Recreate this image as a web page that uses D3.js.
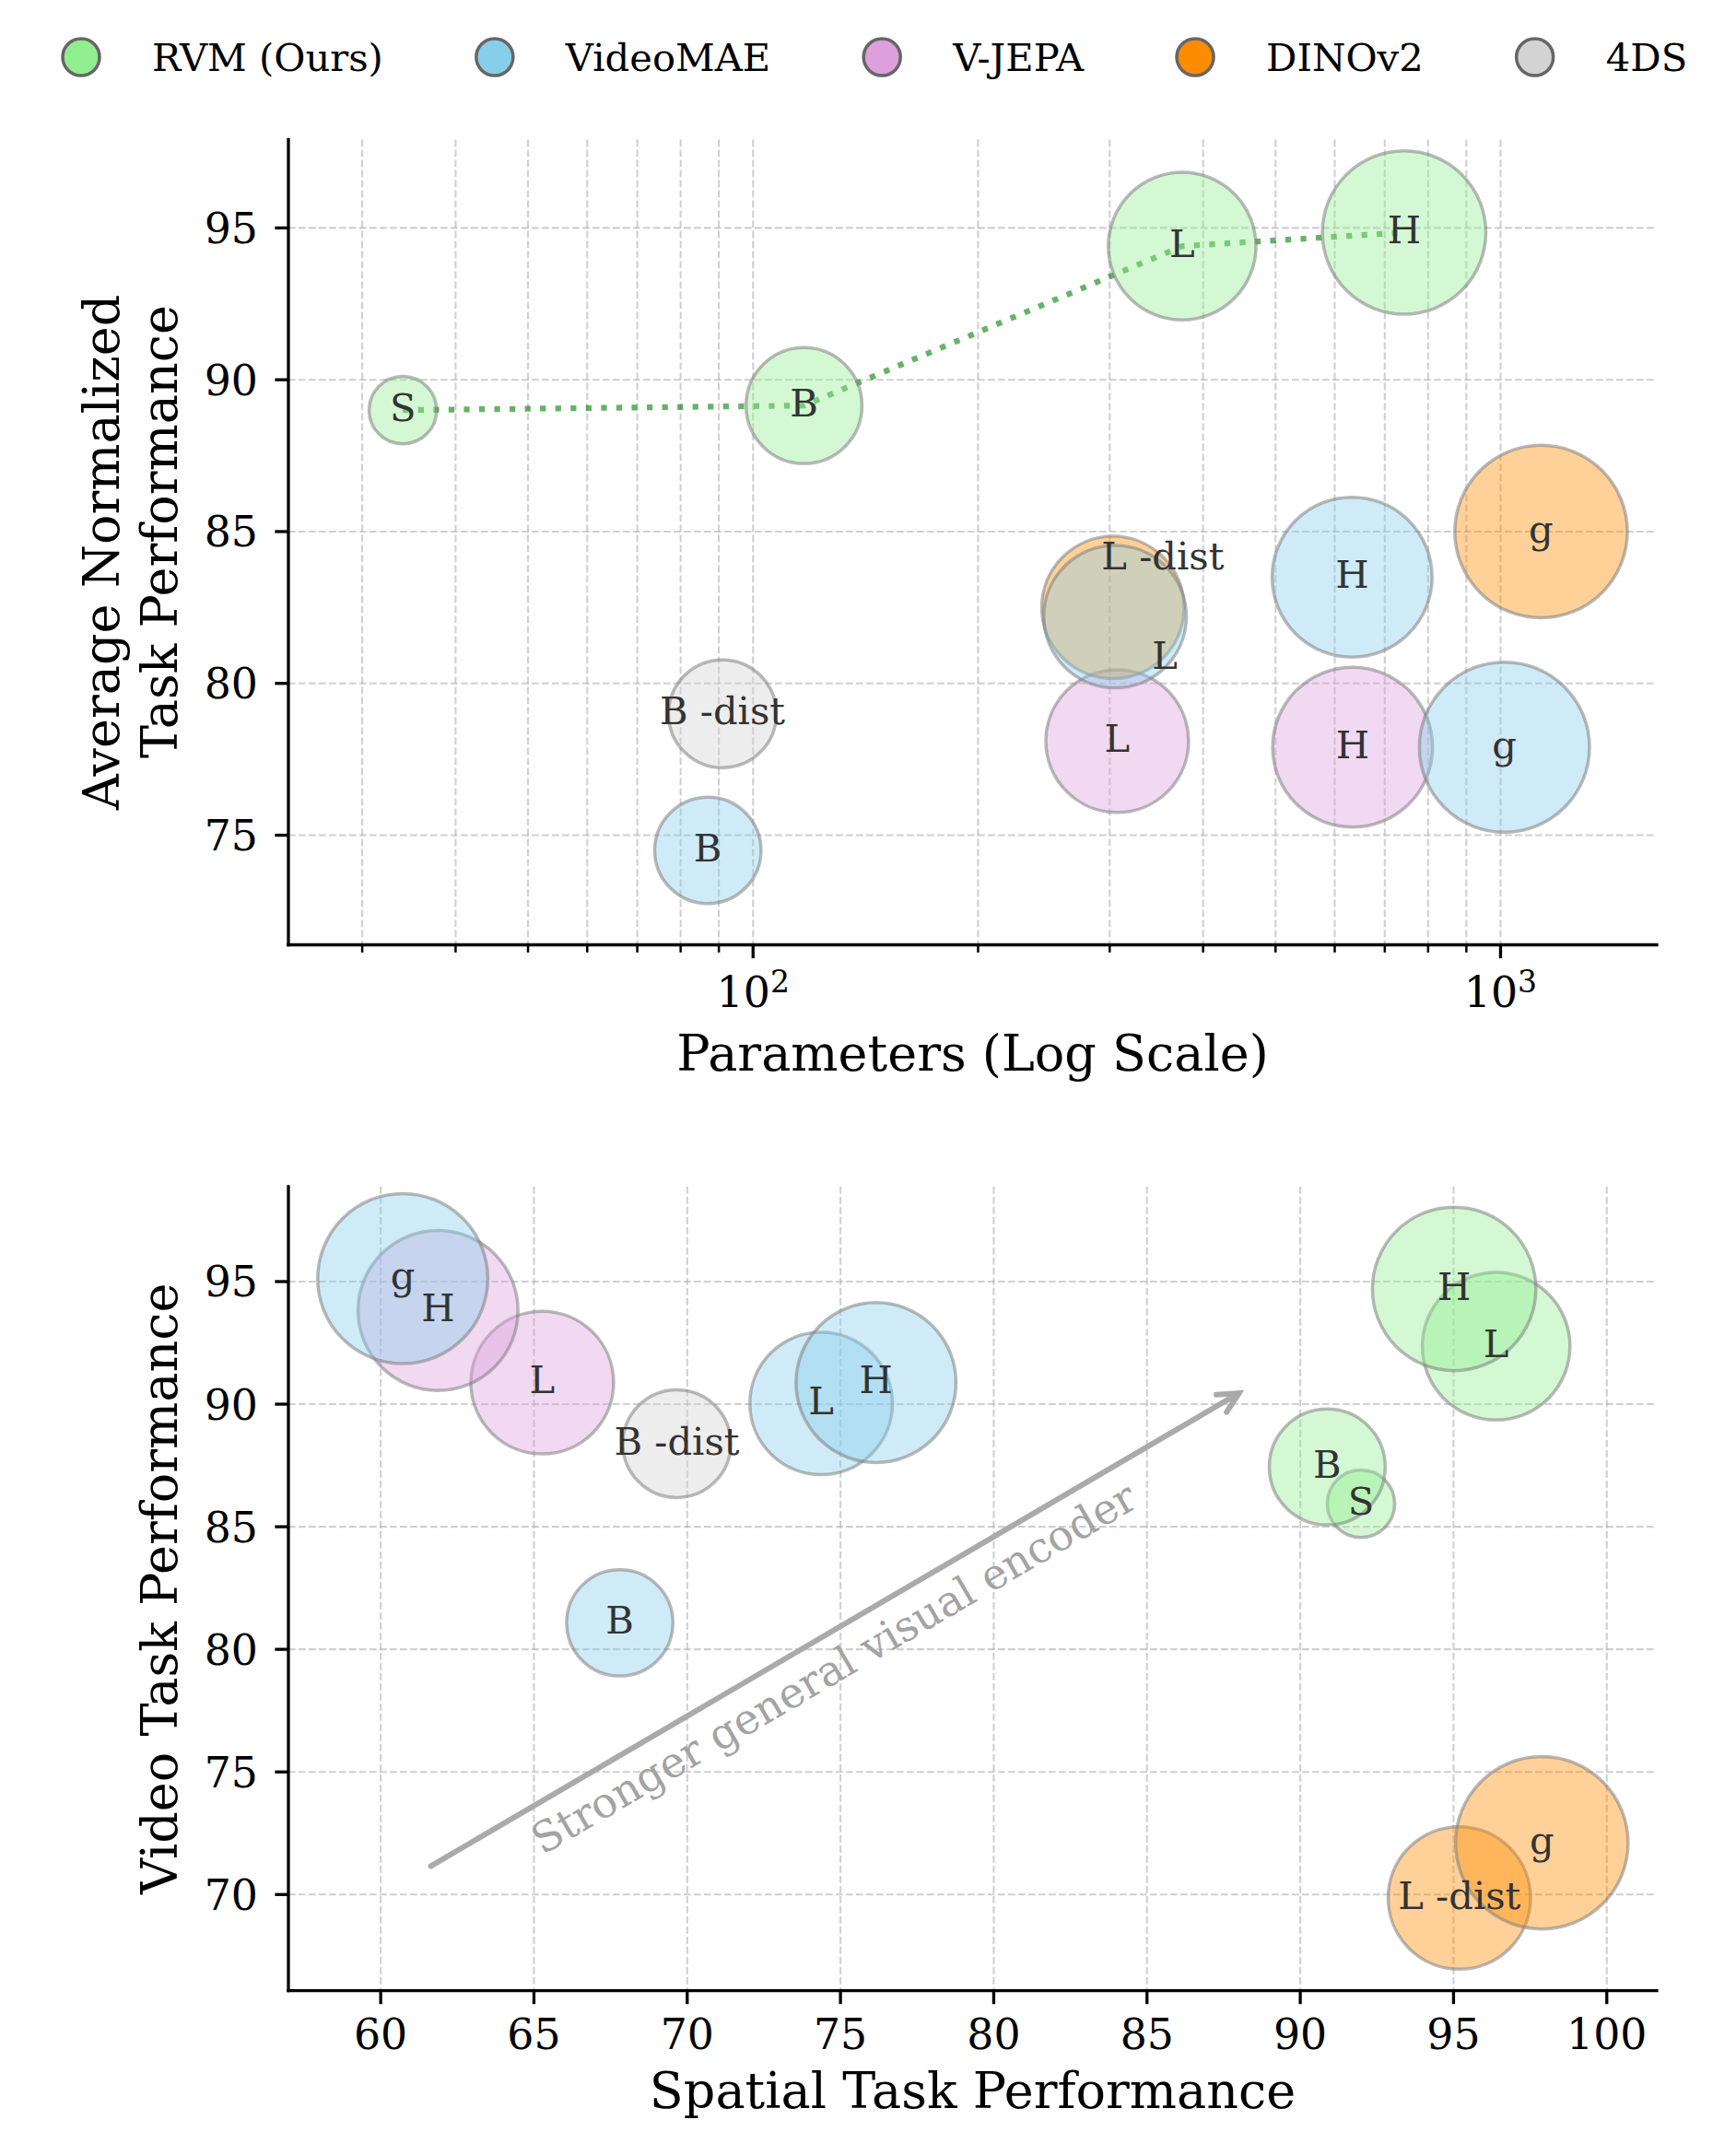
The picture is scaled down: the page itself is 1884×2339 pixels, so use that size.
<!DOCTYPE html>
<meta charset="utf-8">
<style>

body {
  margin: 0;
  background: #fff;
}

text {
  font-family: "DejaVu Serif", serif;
}

.grid line {
  stroke: #b0b0b0;
  stroke-opacity: 0.6;
  stroke-width: 2.1;
  stroke-dasharray: 7.7, 3.3;
}

.bubble {
  fill-opacity: 0.4;
  stroke: #808080;
  stroke-opacity: 0.55;
  stroke-width: 3.5;
}

.bubble-label {
  font-size: 41.7px;
  fill: #333;
  text-anchor: middle;
}

</style>
<svg width="1884" height="2339"></svg>
<script src="https://d3js.org/d3.v7.min.js"></script>
<script>

// legend / families
var families = ["RVM (Ours)", "VideoMAE", "V-JEPA", "DINOv2", "4DS"];
var familyColors = ["lightgreen", "skyblue", "plum", "darkorange", "lightgray"];

// one entry per model (drawing order)
var modelFamily = ["RVM (Ours)", "RVM (Ours)", "RVM (Ours)", "RVM (Ours)",
                   "V-JEPA", "V-JEPA",
                   "DINOv2", "DINOv2",
                   "4DS",
                   "VideoMAE", "VideoMAE", "VideoMAE", "VideoMAE"];
var modelSize = ["S", "B", "L", "H",
                 "L", "H",
                 "L -dist", "g",
                 "B -dist",
                 "B", "L", "H", "g"];
// parameters in millions
var params = [34, 117, 375, 743,
              307, 634,
              303, 1133,
              91,
              87, 305, 633, 1012];
var avgPerf = [89.0, 89.15, 94.4, 94.85,
               78.1, 77.9,
               82.5, 85.0,
               79.0,
               74.5, 82.2, 83.5, 77.9];
var spatialPerf = [91.98, 90.88, 96.39, 95.02,
                   65.27, 61.87,
                   95.19, 97.88,
                   69.66,
                   67.8, 74.37, 76.16, 60.72];
var videoPerf = [85.94, 87.44, 92.36, 94.70,
                 90.88, 93.82,
                 69.86, 72.11,
                 88.39,
                 81.08, 90.03, 90.88, 95.12];

// ticks
var topYTicks = [75, 80, 85, 90, 95];
var topXMajor = [100, 1000];
var topXMajorExp = ["2", "3"];
var topXMinor = [30, 40, 50, 60, 70, 80, 90, 200, 300, 400, 500, 600, 700, 800, 900];
var botXTicks = [60, 65, 70, 75, 80, 85, 90, 95, 100];
var botYTicks = [70, 75, 80, 85, 90, 95];

// annotation in the lower panel
var arrowFrom = [61.64, 71.16];
var arrowTo = [88.0, 90.45];
var arrowText = "Stronger general visual encoder";
var arrowTextAt = [74.8, 79.2];

// label nudges (pixels) for overlapping bubbles in the upper panel
var topLabelNudge = {"DINOv2|L -dist": [54, -53], "VideoMAE|L": [54, 45]};

var svg = d3.select("svg");

var color = d3.scaleOrdinal().domain(families).range(familyColors);

var panelA = {left: 313, right: 1798, top: 151.5, bottom: 1025.5};
var panelB = {left: 313, right: 1798, top: 1288, bottom: 2160.6};

var xA = d3.scaleLog().domain([23.9, 1618]).range([panelA.left, panelA.right]);
var yA = d3.scaleLinear().domain([71.39, 97.91]).range([panelA.bottom, panelA.top]);
var xB = d3.scaleLinear().domain([56.99, 101.63]).range([panelB.left, panelB.right]);
var yB = d3.scaleLinear().domain([66.08, 98.87]).range([panelB.bottom, panelB.top]);

// bubble area grows with log of parameter count
var bubbleArea = d3.scaleLog().domain([34, 1133]).range([1340, 8761]);
function radius(p) { return Math.sqrt(bubbleArea(p)); }

var models = params.map(function(p, i) {
  return {family: modelFamily[i], size: modelSize[i], params: p,
          avg: avgPerf[i], spatial: spatialPerf[i], video: videoPerf[i]};
});

// ---------- grid ----------
function drawGrid(box, xs, ys, xvals, yvals) {
  var g = svg.append("g").attr("class", "grid");
  g.selectAll(".gx").data(xvals).enter().append("line")
      .attr("x1", xs).attr("x2", xs)
      .attr("y1", box.top).attr("y2", box.bottom);
  g.selectAll(".gy").data(yvals).enter().append("line")
      .attr("y1", ys).attr("y2", ys)
      .attr("x1", box.left).attr("x2", box.right);
}

drawGrid(panelA, xA, yA, topXMajor.concat(topXMinor), topYTicks);
drawGrid(panelB, xB, yB, botXTicks, botYTicks);

// ---------- RVM scaling line ----------
var rvm = models.filter(function(d) { return d.family === families[0]; })
    .sort(function(a, b) { return a.params - b.params; });

svg.append("path")
    .datum(rvm)
    .attr("d", d3.line().x(function(d) { return xA(d.params); }).y(function(d) { return yA(d.avg); }))
    .attr("fill", "none")
    .attr("stroke", "green")
    .attr("stroke-opacity", 0.6)
    .attr("stroke-width", 6.25)
    .attr("stroke-dasharray", "6.25,10.3");

// ---------- bubbles ----------
function drawBubbles(xs, ys, xKey, yKey, nudge) {
  var g = svg.append("g");
  g.selectAll("circle").data(models).enter().append("circle")
      .attr("class", "bubble")
      .attr("cx", function(d) { return xs(d[xKey]); })
      .attr("cy", function(d) { return ys(d[yKey]); })
      .attr("r", function(d) { return radius(d.params); })
      .style("fill", function(d) { return color(d.family); });
  g.selectAll("text").data(models).enter().append("text")
      .attr("class", "bubble-label")
      .attr("x", function(d) {
        var n = nudge[d.family + "|" + d.size];
        return xs(d[xKey]) + (n ? n[0] : 0);
      })
      .attr("y", function(d) {
        var n = nudge[d.family + "|" + d.size];
        return ys(d[yKey]) + (n ? n[1] : 0);
      })
      .attr("dy", "0.28em")
      .text(function(d) { return d.size; });
}

drawBubbles(xA, yA, "params", "avg", topLabelNudge);
drawBubbles(xB, yB, "spatial", "video", {});

// ---------- arrow + annotation ----------
var ax0 = xB(arrowFrom[0]), ay0 = yB(arrowFrom[1]);
var ax1 = xB(arrowTo[0]), ay1 = yB(arrowTo[1]);
var ang = Math.atan2(ay1 - ay0, ax1 - ax0);
var headLen = 22, headW = 11;

var arrow = svg.append("g")
    .attr("stroke", "#aaaaaa")
    .attr("stroke-width", 6)
    .attr("stroke-linecap", "round")
    .attr("fill", "none");
arrow.append("line").attr("x1", ax0).attr("y1", ay0).attr("x2", ax1).attr("y2", ay1);
arrow.append("path")
    .attr("stroke-linejoin", "miter")
    .attr("d", function() {
      var bx = ax1 - headLen * Math.cos(ang), by = ay1 - headLen * Math.sin(ang);
      var px = -Math.sin(ang) * headW, py = Math.cos(ang) * headW;
      return "M" + (bx + px) + "," + (by + py) + "L" + ax1 + "," + ay1 + "L" + (bx - px) + "," + (by - py);
    });

svg.append("text")
    .attr("transform", "translate(" + xB(arrowTextAt[0]) + "," + yB(arrowTextAt[1]) + ") rotate(" + (ang * 180 / Math.PI) + ")")
    .attr("text-anchor", "middle")
    .attr("dy", "0.32em")
    .style("font-size", "45.8px")
    .style("fill", "#a3a3a3")
    .text(arrowText);

// ---------- axes ----------
function spines(box) {
  var g = svg.append("g").attr("stroke", "#000").attr("stroke-width", 3.3).attr("stroke-linecap", "square");
  g.append("line").attr("x1", box.left).attr("x2", box.left).attr("y1", box.top).attr("y2", box.bottom);
  g.append("line").attr("x1", box.left).attr("x2", box.right).attr("y1", box.bottom).attr("y2", box.bottom);
}

function yTicks(box, ys, vals) {
  var g = svg.append("g");
  g.selectAll("line").data(vals).enter().append("line")
      .attr("x1", box.left).attr("x2", box.left - 14.6)
      .attr("y1", ys).attr("y2", ys)
      .attr("stroke", "#000").attr("stroke-width", 3.3);
  g.selectAll("text").data(vals).enter().append("text")
      .attr("x", box.left - 33)
      .attr("y", ys)
      .attr("dy", "0.36em")
      .attr("text-anchor", "end")
      .style("font-size", "45.8px")
      .text(function(d) { return d; });
}

function xTickMarks(box, xs, vals, len, w) {
  svg.append("g").selectAll("line").data(vals).enter().append("line")
      .attr("x1", xs).attr("x2", xs)
      .attr("y1", box.bottom).attr("y2", box.bottom + len)
      .attr("stroke", "#000").attr("stroke-width", w);
}

spines(panelA);
spines(panelB);

yTicks(panelA, yA, topYTicks);
yTicks(panelB, yB, botYTicks);

xTickMarks(panelA, xA, topXMinor, 8.3, 2.5);
xTickMarks(panelA, xA, topXMajor, 14.6, 3.3);
xTickMarks(panelB, xB, botXTicks, 14.6, 3.3);

// log-axis labels as 10^n
var logLab = svg.append("g").selectAll("text").data(topXMajor).enter().append("text")
    .attr("x", xA)
    .attr("y", panelA.bottom + 67.5)
    .attr("text-anchor", "middle")
    .style("font-size", "45.8px");
logLab.append("tspan").text("10");
logLab.append("tspan")
    .attr("dy", -16)
    .style("font-size", "33px")
    .text(function(d, i) { return topXMajorExp[i]; });

svg.append("g").selectAll("text").data(botXTicks).enter().append("text")
    .attr("x", xB)
    .attr("y", panelB.bottom + 63)
    .attr("text-anchor", "middle")
    .style("font-size", "45.8px")
    .text(function(d) { return d; });

// axis titles
svg.append("text")
    .attr("x", (panelA.left + panelA.right) / 2)
    .attr("y", 1162)
    .attr("text-anchor", "middle")
    .style("font-size", "54px")
    .text("Parameters (Log Scale)");

svg.append("text")
    .attr("x", (panelB.left + panelB.right) / 2)
    .attr("y", 2288)
    .attr("text-anchor", "middle")
    .style("font-size", "54px")
    .text("Spatial Task Performance");

svg.append("text")
    .attr("transform", "translate(129,599.5) rotate(-90)")
    .attr("text-anchor", "middle")
    .style("font-size", "54px")
    .text("Average Normalized");

svg.append("text")
    .attr("transform", "translate(192,577) rotate(-90)")
    .attr("text-anchor", "middle")
    .style("font-size", "54px")
    .text("Task Performance");

svg.append("text")
    .attr("transform", "translate(192," + (panelB.top + panelB.bottom) / 2 + ") rotate(-90)")
    .attr("text-anchor", "middle")
    .style("font-size", "54px")
    .text("Video Task Performance");

// ---------- legend ----------
var lx = 88;
families.forEach(function(f) {
  svg.append("circle")
      .attr("cx", lx).attr("cy", 62).attr("r", 20)
      .style("fill", color(f))
      .style("stroke", "#666")
      .style("stroke-width", 3.5);
  var t = svg.append("text")
      .attr("x", lx + 77).attr("y", 77)
      .style("font-size", "41.7px")
      .text(f);
  lx += 77 + t.node().getComputedTextLength() + 121;
});

</script>
